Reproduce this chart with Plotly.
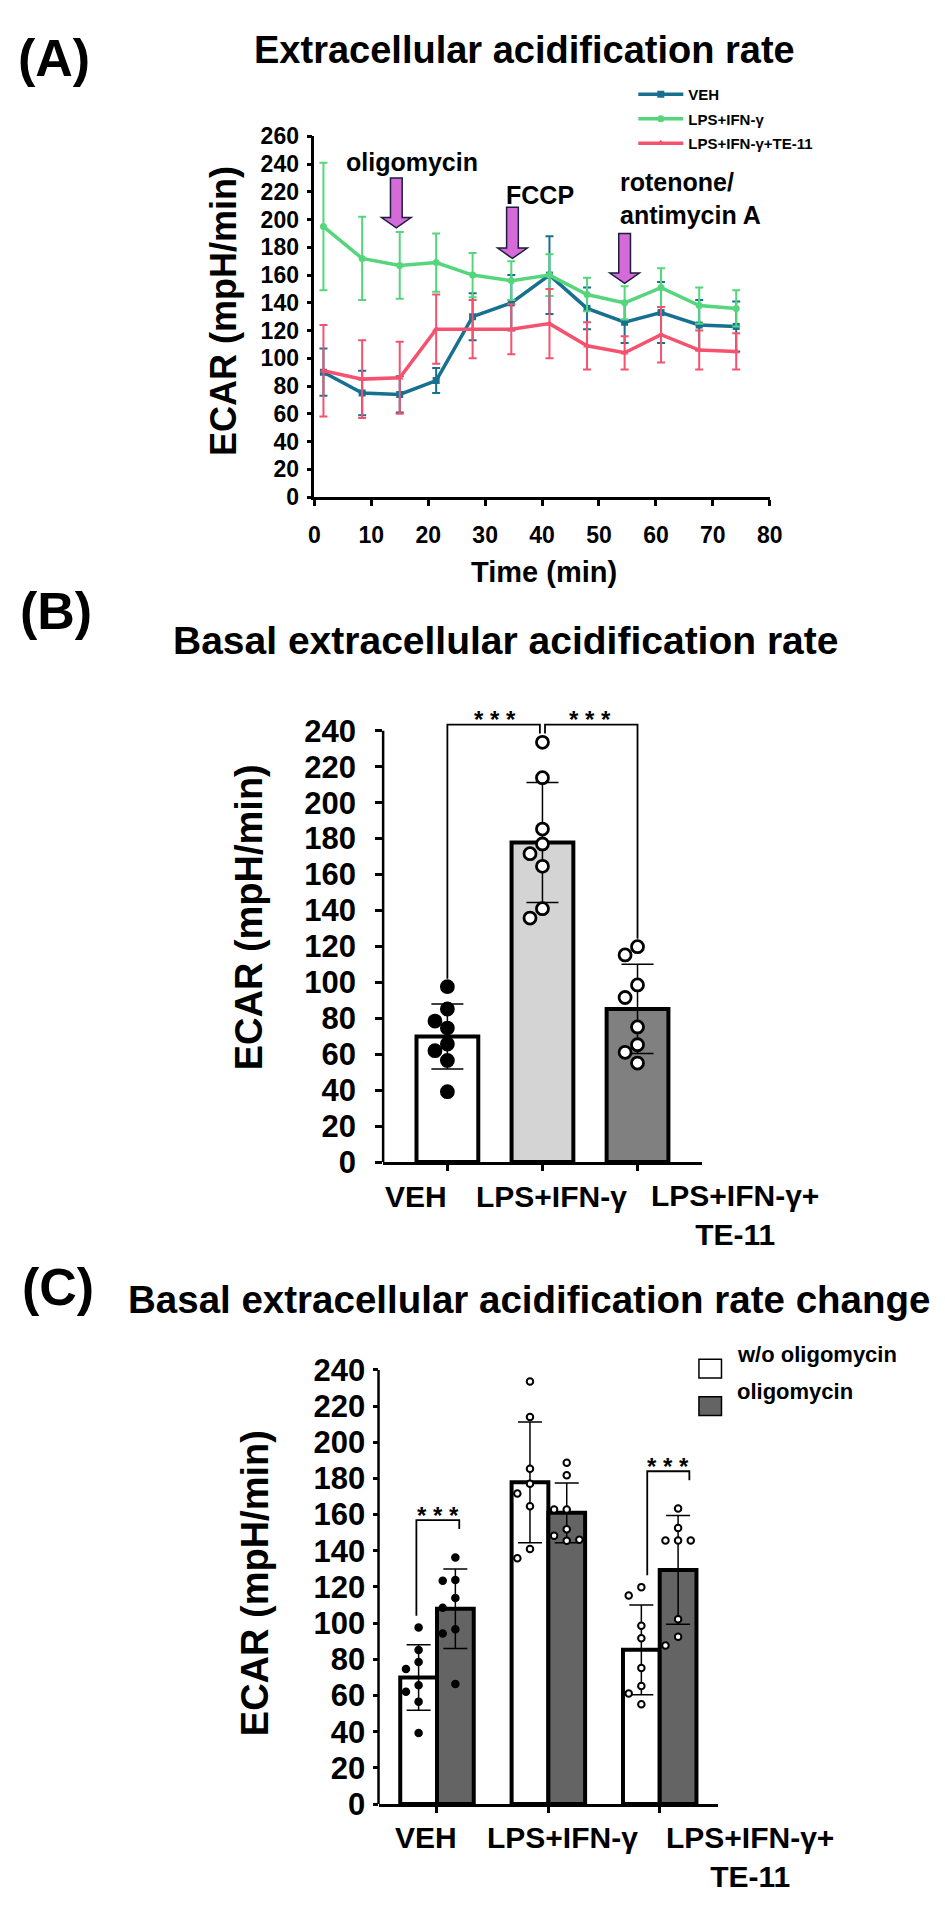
import numpy as np
import plotly.graph_objects as go

# ---------------- data ----------------
# (A) ECAR time course, mean and error bar half-length
time_min = [1.6, 8.4, 15.0, 21.4, 27.8, 34.6, 41.3, 47.9, 54.5, 60.9, 67.6, 74.1]
veh_mean = [90, 75, 74, 84, 130, 140, 160, 136, 126, 133, 124, 123]
veh_err = [17, 16, 13, 9, 17, 20, 28, 15, 15, 22, 18, 18]
lps_mean = [195, 172, 167, 169, 160, 156, 160, 146, 140, 151, 138, 136]
lps_err = [46, 30, 24, 21, 16, 14, 15, 12, 12, 14, 13, 13]
te_mean = [91, 85, 86, 121, 121, 121, 125, 109, 104, 117, 106, 105]
te_err = [33, 28, 26, 25, 21, 18, 25, 17, 12, 20, 14, 13]
series_names = ["VEH", "LPS+IFN-γ", "LPS+IFN-γ+TE-11"]

injections = ["oligomycin", "FCCP", "rotenone/<br>antimycin A"]
injection_time = [14.4, 34.8, 54.5]

# (B)/(C) per-well basal ECAR, without and with oligomycin
groups = ["VEH", "LPS+IFN-γ", "LPS+IFN-γ+<br>TE-11"]
basal_veh = [97.6, 85.2, 78.5, 74.6, 65.7, 62.0, 56.6, 39.2]
basal_lps = [233.6, 213.9, 185.3, 177.0, 171.6, 164.6, 141.0, 135.8]
basal_te = [119.9, 115.3, 98.6, 91.6, 75.2, 65.3, 61.1, 55.1]
oligo_veh = [136.3, 123.9, 123.4, 113.9, 108.5, 96.6, 94.3, 66.4]
oligo_lps = [188.7, 181.8, 162.8, 162.8, 151.9, 148.3, 146.1, 145.6]
oligo_te = [163.3, 152.6, 145.7, 145.7, 145.7, 102.2, 92.5, 87.6]
stars = "* * *"

# ---------------- helpers ----------------
W, H = 945, 1905
FONT = "Liberation Sans"


def fx(p):
    return p / W


def fy(p):
    return 1 - p / H


def swarm(vals, center, y_ppu, x_ppc, thr, step):
    # simple beeswarm: keep a dot centred unless it overlaps one already placed
    placed, xs = [], []
    for v in vals:
        yy = v * y_ppu
        for k in [0, -1, 1, -2, 2, -3, 3]:
            xx = k * step
            if all((xx - a) ** 2 + (yy - b) ** 2 >= thr ** 2 for a, b in placed):
                break
        placed.append((xx, yy))
        xs.append(center + xx / x_ppc)
    return xs


fig = go.Figure()
shapes, annos = [], []

# ---------------- panel A ----------------
colors_A = ["#17708f", "#55d67c", "#f4526f"]
symbols_A = ["square", "circle", "triangle-up"]
for name, m, e, col, sym in zip(series_names, [veh_mean, lps_mean, te_mean],
                                [veh_err, lps_err, te_err], colors_A, symbols_A):
    fig.add_trace(go.Scatter(
        x=time_min, y=m, name=name, mode="lines+markers", legendgroup=name,
        line=dict(color=col, width=3.5),
        marker=dict(symbol=sym, size=7, color=col),
        error_y=dict(type="data", array=e, color=col, thickness=2, width=4),
        xaxis="x", yaxis="y",
    ))

# block arrows for the injections
arrow_top = [230, 209, 190]
arrow_tip = [194, 172, 154]
sw, hw, hh = 1.03, 2.6, 7.5
for t, top, tip in zip(injection_time, arrow_top, arrow_tip):
    hb = tip + hh
    path = (f"M {t-sw},{top} L {t+sw},{top} L {t+sw},{hb} L {t+hw},{hb} "
            f"L {t},{tip} L {t-hw},{hb} L {t-sw},{hb} Z")
    shapes.append(dict(type="path", xref="x", yref="y", path=path,
                       fillcolor="#d46bd9", line=dict(color="#1d1d3d", width=1.5)))

label_pos = [(17.1, 241.5, "center"), (39.6, 218, "center"), (53.4, 215, "left")]
for txt, (lx, ly, al) in zip(injections, label_pos):
    annos.append(dict(xref="x", yref="y", x=lx, y=ly, text=f"<b>{txt}</b>",
                      showarrow=False, xanchor=al, align="left",
                      font=dict(family=FONT, size=25, color="black")))

# ---------------- panel B ----------------
basal_sets = [basal_veh, basal_lps, basal_te]
oligo_sets = [oligo_veh, oligo_lps, oligo_te]
b_mean = [float(np.mean(v)) for v in basal_sets]
b_sd = [float(np.std(v, ddof=1)) for v in basal_sets]
fig.add_trace(go.Bar(
    x=[0, 1, 2], y=b_mean, width=0.65, showlegend=False,
    marker=dict(color=["white", "#d4d4d4", "#808080"], line=dict(color="black", width=4)),
    error_y=dict(type="data", array=b_sd, color="black", thickness=1.5, width=16),
    xaxis="x2", yaxis="y2",
))
dot_fill = ["black", "white", "white"]
for i, vals in enumerate(basal_sets):
    xs = swarm(vals, i, 1.826, 97, 13, 12.7)
    fig.add_trace(go.Scatter(
        x=xs, y=vals, mode="markers", showlegend=False, xaxis="x2", yaxis="y2",
        marker=dict(size=12, color=dot_fill[i], line=dict(color="black", width=2.8)),
    ))

# significance brackets
top_b = max(max(v) for v in basal_sets) + 18 / 1.826
for a, b in [(0, 1), (1, 2)]:
    ya = max(basal_sets[a]) + 8 / 1.826 if a != 1 else top_b - 5
    yb = max(basal_sets[b]) + 8 / 1.826 if b != 1 else top_b - 5
    xa = a + (0.027 if a == 1 else 0)
    xb = b - (0.027 if b == 1 else 0)
    shapes.append(dict(type="path", xref="x2", yref="y2",
                       path=f"M {xa},{ya} L {xa},{top_b} L {xb},{top_b} L {xb},{yb}",
                       line=dict(color="black", width=1.8)))
    annos.append(dict(xref="x2", yref="y2", x=(a + b) / 2, y=top_b, yanchor="middle",
                      yshift=5, text=f"<b>{stars}</b>", showarrow=False,
                      font=dict(family=FONT, size=24, color="black")))

# ---------------- panel C ----------------
c_w_mean = b_mean
c_w_sd = b_sd
c_o_mean = [float(np.mean(v)) for v in oligo_sets]
c_o_sd = [float(np.std(v, ddof=1)) for v in oligo_sets]
off = 0.165
fig.add_trace(go.Bar(
    x=[i - off for i in range(3)], y=c_w_mean, width=0.33, showlegend=False,
    marker=dict(color="white", line=dict(color="black", width=4)),
    error_y=dict(type="data", array=c_w_sd, color="black", thickness=1.5, width=12),
    xaxis="x3", yaxis="y3",
))
fig.add_trace(go.Bar(
    x=[i + off for i in range(3)], y=c_o_mean, width=0.33, showlegend=False,
    marker=dict(color="#646464", line=dict(color="black", width=4)),
    error_y=dict(type="data", array=c_o_sd, color="black", thickness=1.5, width=12),
    xaxis="x3", yaxis="y3",
))
for i in range(3):
    for vals, sgn in [(basal_sets[i], -1), (oligo_sets[i], 1)]:
        xs = swarm(vals, i + sgn * off, 1.838, 113.65, 11, 12.9)
        fig.add_trace(go.Scatter(
            x=xs, y=vals, mode="markers", showlegend=False, xaxis="x3", yaxis="y3",
            marker=dict(size=7 if i == 0 else 6.5, color=dot_fill[i],
                        line=dict(color="black", width=2 if i else 1.5)),
        ))

for i, (l_off, r_off) in [(0, (-0.185, 0.2)), (2, (-0.112, 0.266))]:
    top_c = max(oligo_sets[i]) + 38 / 1.838
    yl = max(basal_sets[i]) + 12 / 1.838
    yr = top_c - 5
    xl, xr = i + l_off, i + r_off
    shapes.append(dict(type="path", xref="x3", yref="y3",
                       path=f"M {xl},{yl} L {xl},{top_c} L {xr},{top_c} L {xr},{yr}",
                       line=dict(color="black", width=1.8)))
    annos.append(dict(xref="x3", yref="y3", x=(xl + xr) / 2, y=top_c, yanchor="middle",
                      yshift=5, text=f"<b>{stars}</b>", showarrow=False,
                      font=dict(family=FONT, size=24, color="black")))

# legend of panel C
for k, (lab, fill) in enumerate([("w/o oligomycin", "white"), ("oligomycin", "#646464")]):
    yc = 1370 + k * 38
    shapes.append(dict(type="rect", xref="paper", yref="paper",
                       x0=fx(699), x1=fx(722), y0=fy(yc - 9.5), y1=fy(yc + 9.5),
                       fillcolor=fill, line=dict(color="black", width=1.5)))
    annos.append(dict(xref="paper", yref="paper", x=fx(736), y=fy(yc), xanchor="left",
                      text=f"<b>{lab}</b>", showarrow=False,
                      font=dict(family=FONT, size=22, color="black")))

# ---------------- axes ----------------
ax_common = dict(showgrid=False, zeroline=False, linecolor="black", tickcolor="black",
                 ticks="outside", showline=True, linewidth=2.5, tickwidth=2.5)

yB_dom = [fy(1160), fy(685)]
yC_dom = [fy(1812.5), fy(1362)]
fig.update_layout(
    xaxis=dict(ax_common, domain=[fx(306.5), fx(771.3)], range=[0, 80], dtick=10,
               ticklen=6, anchor="y", ticklabelstandoff=10,
               tickfont=dict(family=FONT, size=23, color="black", weight="bold")),
    yaxis=dict(ax_common, domain=[fy(483.9), fy(117.3)], range=[0, 260], dtick=20,
               ticklen=5, anchor="x", ticklabelstandoff=3,
               tickfont=dict(family=FONT, size=23, color="black", weight="bold")),
    xaxis2=dict(ax_common, domain=[fx(376.7), fx(701.7)], range=[-0.676, 2.674],
                tickvals=[0, 1, 2], showticklabels=False, ticklen=6, anchor="y2"),
    yaxis2=dict(ax_common, domain=yB_dom, range=[0, 260], showline=False,
                tickvals=list(range(0, 241, 20)), ticklen=7, anchor="x2",
                ticklabelstandoff=13,
                tickfont=dict(family=FONT, size=31, color="black", weight="bold")),
    xaxis3=dict(ax_common, domain=[fx(372), fx(718.3)], range=[-0.525, 2.522],
                tickvals=[0, 1, 2], showticklabels=False, ticklen=6, anchor="y3"),
    yaxis3=dict(ax_common, domain=yC_dom, range=[0, 245], showline=False,
                tickvals=list(range(0, 241, 20)), ticklen=5, anchor="x3",
                ticklabelstandoff=1,
                tickfont=dict(family=FONT, size=31, color="black", weight="bold")),
)

# y axis lines of B and C stop at 240
for dom, top, xp in [(yB_dom, 260, 376.7), (yC_dom, 245, 372)]:
    shapes.append(dict(type="line", xref="paper", yref="paper", x0=fx(xp), x1=fx(xp),
                       y0=dom[0], y1=dom[0] + (dom[1] - dom[0]) * 240 / top,
                       line=dict(color="black", width=2.5)))

# ---------------- texts ----------------
def text(x, y, s, size, angle=0, anchor="center"):
    annos.append(dict(xref="paper", yref="paper", x=fx(x), y=fy(y), text=f"<b>{s}</b>",
                      showarrow=False, xanchor=anchor, yanchor="middle", textangle=angle,
                      font=dict(family=FONT, size=size, color="black")))


text(41, 38, "(A)", 52)
text(43, 600, "(B)", 52)
text(45, 1287, "(C)", 52)
text(243, 29, "Extracellular acidification rate", 38, anchor="left")
text(160, 630, "Basal extracellular acidification rate", 39, anchor="left")
text(114, 1300, "Basal extracellular acidification rate change", 38.5, anchor="left")
text(213, 295, "ECAR (mpH/min)", 36, angle=-90)
text(240, 911, "ECAR (mpH/min)", 38, angle=-90)
text(246, 1588, "ECAR (mpH/min)", 38, angle=-90)
text(541, 560, "Time (min)", 29)

for xc, yc, lab in zip([410.7, 548.5, 735.5], [1195, 1195, 1214], groups):
    text(xc, yc, lab, 30)
for xc, yc, lab in zip([420.8, 560, 751], [1847, 1847, 1866], groups):
    text(xc, yc, lab, 30)

fig.update_layout(
    width=W, height=H, margin=dict(l=0, r=0, t=0, b=0),
    paper_bgcolor="white", plot_bgcolor="white", barmode="overlay",
    font=dict(family=FONT, color="black"),
    shapes=shapes, annotations=annos,
    legend=dict(x=fx(632), y=fy(58), xanchor="left", yanchor="top",
                font=dict(family=FONT, size=15, color="black", weight="bold"),
                itemwidth=45, tracegroupgap=2, bgcolor="rgba(0,0,0,0)"),
)

fig.write_html("out.html")
